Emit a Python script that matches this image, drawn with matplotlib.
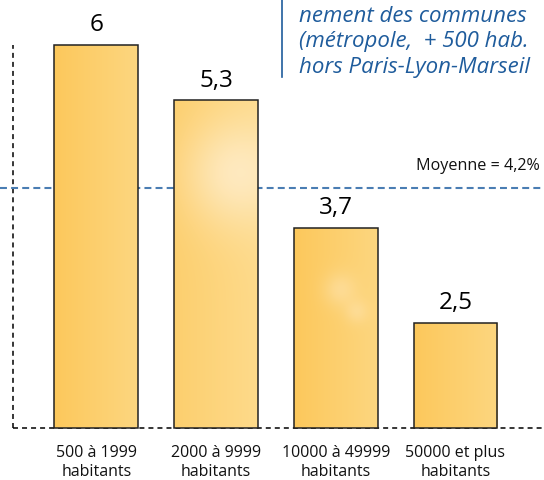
import numpy as np
import matplotlib
matplotlib.use("Agg")
import matplotlib.pyplot as plt
from matplotlib.patches import Rectangle
from matplotlib.colors import to_rgb

plt.rcParams['font.family'] = ['Open Sans', 'DejaVu Sans']
plt.rcParams['lines.scale_dashes'] = False

# ---- data ----
categories = ["500 à 1999\nhabitants", "2000 à 9999\nhabitants",
              "10000 à 49999\nhabitants", "50000 et plus\nhabitants"]
values = [6.0, 5.3, 3.7, 2.5]
value_labels = ["6", "5,3", "3,7", "2,5"]
mean_value = 4.2
mean_label = "Moyenne = 4,2%"
title_lines = ["nement des communes", "(métropole,  + 500 hab.", "hors Paris-Lyon-Marseil"]

# ---- figure ----
W, H = 544, 481
fig = plt.figure(figsize=(W / 100, H / 100), dpi=100)
ax = fig.add_axes([0, 0, 1, 1])
ax.set_axis_off()

x0_px, dx_px = 96.3, 119.7
y0_px, dy_px = 522.8, 79.5
xlim = (-x0_px / dx_px, (W - x0_px) / dx_px)
ylim = ((y0_px - H) / dy_px, y0_px / dy_px)
base = (y0_px - 429) / dy_px
width = 0.70

blue = "#4a7db3"
text_blue = "#1f5c9c"

# glow settings per bar: list of (centre x, centre y in bar-relative coords, strength, radius)
glows = [[], [(0.75, 0.78, 0.6, 0.45)], [(0.55, 0.69, 0.3, 0.14), (0.75, 0.58, 0.25, 0.1)], []]
left_c = np.array(to_rgb("#fcc85c"))
right_c = np.array(to_rgb("#fdd67f"))

x = np.arange(len(values))
for i, v in enumerate(values):
    xa, xb = i - width / 2, i + width / 2
    ny, nx = 200, 60
    u = np.linspace(0, 1, nx)[None, :, None]
    t = np.linspace(1, 0, ny)[:, None, None]
    img = left_c * (1 - u) + right_c * u
    img = np.broadcast_to(img, (ny, nx, 3)).copy()
    hpx = (v - base) * dy_px
    wpx = width * dx_px
    if i == 1:
        img = img * 0.8 + np.array([1.0, 0.92, 0.72]) * 0.2
    for gx, gy, gs, gr in glows[i]:
        d2 = ((u - gx) * wpx) ** 2 + ((t - gy) * hpx) ** 2
        g = gs * np.exp(-d2 / (2 * (gr * wpx) ** 2))
        img = img * (1 - g) + np.array([1.0, 0.96, 0.90]) * g
    rect = Rectangle((xa, base), width, v - base, facecolor="none",
                     edgecolor="#222222", linewidth=1.1, zorder=3)
    ax.add_patch(rect)
    im = ax.imshow(np.clip(img, 0, 1), extent=(xa, xb, base, v), aspect='auto',
                   origin='upper', zorder=2, interpolation='bilinear')
    im.set_clip_path(rect)
    ax.annotate(value_labels[i], (i, v), xytext=(0, 10.5), textcoords='offset points',
                ha='center', va='baseline', fontsize=17.5, color='black', zorder=5)
    lines = categories[i].split("\n")
    for k, line in enumerate(lines):
        ax.text(i, (y0_px - (457 + 19.5 * k)) / dy_px, line, ha='center', va='baseline',
                fontsize=11.5, color='#111111')

# dashed frame lines
ax.plot([(13 - x0_px) / dx_px] * 2, [base, 6.0], color='black', lw=1.1,
        dashes=(3.6, 2.9), zorder=1)
ax.plot([(13 - x0_px) / dx_px, xlim[1]], [base, base], color='black', lw=1.1,
        dashes=(3.6, 2.9), zorder=1)
ax.axhline(mean_value, color=blue, lw=1.5, dashes=(5, 3), zorder=1)
ax.text((416 - x0_px) / dx_px, mean_value + 0.29, mean_label, ha='left', va='center',
        fontsize=11.6, color='#111111')

ax.set_xlim(*xlim)
ax.set_ylim(*ylim)

# header text block
fig.add_artist(plt.Line2D([282 / W] * 2, [1, 1 - 78 / H], color=text_blue, lw=1.2,
                          transform=fig.transFigure))
for k, line in enumerate(title_lines):
    fig.text(299 / W, 1 - (16 + 25.5 * k) / H, line, ha='left', va='center',
             fontsize=16, style='italic', color=text_blue)

fig.savefig("out.png", dpi=100)
